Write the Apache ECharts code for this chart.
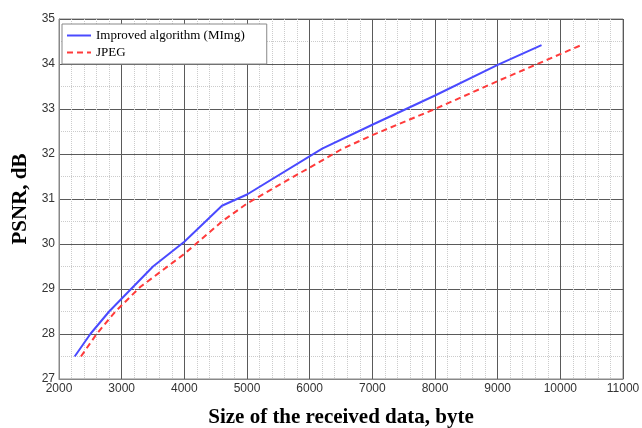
<!DOCTYPE html>
<html>
<head>
  <meta charset="UTF-8">
  <title>PSNR</title>
  <script src="https://cdn.jsdelivr.net/npm/echarts@6/dist/echarts.min.js"></script>
  <style>
    html, body { margin: 0; padding: 0; background: #fff; }
    #main { width: 642px; height: 428px; }
  </style>
</head>
<body>
<div id="main"></div>
<script>
  // received size (byte) / PSNR (dB)
  var mimgSize = [2250, 2500, 2800, 3500, 4000, 4600, 5000, 6200, 7000, 8000, 9000, 9700];
  var mimgPsnr = [27.5, 28.0, 28.5, 29.5, 30.05, 30.85, 31.1, 32.12, 32.65, 33.3, 33.98, 34.42];
  var jpegSize = [2350, 2600, 2900, 3300, 4000, 4600, 5000, 6500, 7000, 8000, 9000, 10350];
  var jpegPsnr = [27.5, 28.0, 28.5, 29.05, 29.78, 30.5, 30.9, 32.1, 32.42, 33.0, 33.62, 34.43];

  function pairs(xs, ys) {
    return xs.map(function (x, i) { return [x, ys[i]]; });
  }

  var serif = 'Liberation Serif';
  var sans = 'Liberation Sans';

  var axisCommon = {
    axisLine: { show: true, lineStyle: { color: '#888', width: 1 } },
    axisTick: { show: false },
    axisLabel: { color: '#333', fontFamily: sans, fontSize: 12, margin: 4, formatter: function (v) { return String(v); } },
    splitLine: { show: true, lineStyle: { color: '#5a5a5a', width: 1 } },
    minorSplitLine: { show: true, lineStyle: { color: '#ccc', type: 'dotted', width: 1 } },
    nameTextStyle: { fontFamily: serif, fontWeight: 'bold', fontSize: 21, color: '#000' }
  };

  echarts.init(document.getElementById('main')).setOption({
    animation: false,
    grid: {
      left: 59, right: 19, top: 19, bottom: 49,
      outerBoundsMode: 'none',
      show: true, borderColor: '#888', borderWidth: 1
    },
    legend: {
      orient: 'vertical',
      left: 62,
      top: 24,
      backgroundColor: '#fff',
      borderColor: '#888',
      borderWidth: 1,
      padding: [5, 22, 5, 4],
      itemGap: 4,
      itemWidth: 24,
      itemHeight: 10,
      itemStyle: { opacity: 0 },
      textStyle: { fontFamily: serif, fontSize: 13, color: '#000' },
      data: ['Improved algorithm (MImg)', 'JPEG']
    },
    xAxis: Object.assign({}, axisCommon, {
      type: 'value',
      min: 2000,
      max: 11000,
      interval: 1000,
      minorTick: { show: false, splitNumber: 5 },
      name: 'Size of the received data, byte',
      nameLocation: 'middle',
      nameGap: 28
    }),
    yAxis: Object.assign({}, axisCommon, {
      type: 'value',
      min: 27,
      max: 35,
      interval: 1,
      minorTick: { show: false, splitNumber: 2 },
      name: 'PSNR, dB',
      nameLocation: 'middle',
      nameGap: 27
    }),
    series: [
      {
        name: 'Improved algorithm (MImg)',
        type: 'line',
        symbol: 'none',
        data: pairs(mimgSize, mimgPsnr),
        lineStyle: { color: '#4a4aff', width: 2 },
        itemStyle: { color: '#4a4aff' }
      },
      {
        name: 'JPEG',
        type: 'line',
        symbol: 'none',
        data: pairs(jpegSize, jpegPsnr),
        lineStyle: { color: '#ff3b3b', width: 2, type: [6, 4] },
        itemStyle: { color: '#ff3b3b' }
      }
    ]
  });
</script>
</body>
</html>
